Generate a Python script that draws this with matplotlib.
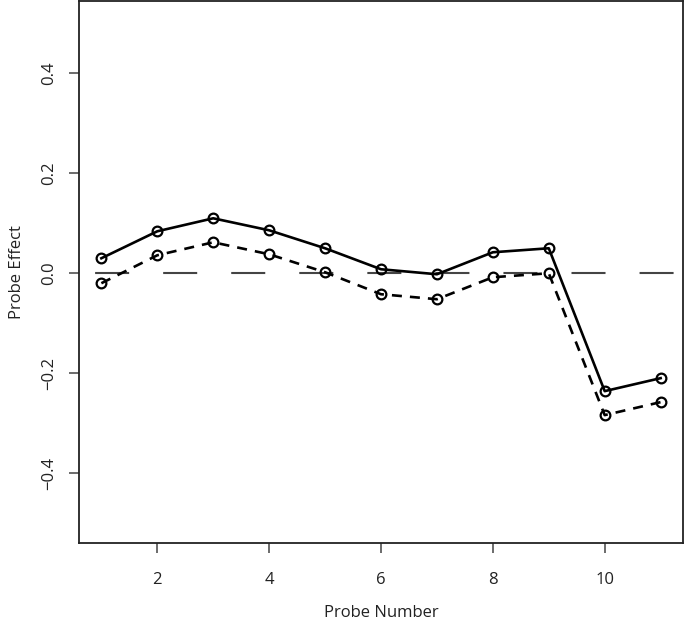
import numpy as np
import matplotlib
matplotlib.use("Agg")
from matplotlib import pyplot as plt

plt.rcParams['font.family'] = ['Open Sans', 'DejaVu Sans']
plt.rcParams['lines.scale_dashes'] = False

probe = [1, 2, 3, 4, 5, 6, 7, 8, 9, 10, 11]
effect_solid = [0.030, 0.084, 0.110, 0.086, 0.050, 0.008, -0.002, 0.042, 0.050, -0.236, -0.210]
effect_dashed = [-0.020, 0.036, 0.062, 0.038, 0.002, -0.042, -0.052, -0.008, 0.000, -0.284, -0.258]
xticks = [2, 4, 6, 8, 10]
yticks = [-0.4, -0.2, 0.0, 0.2, 0.4]

fig = plt.figure(figsize=(6.85, 6.25), dpi=100)
ax = fig.add_axes([79/685, 82/625, 604/685, 542/625])

# reference line at zero (long dashes)
ax.axhline(0, color='#444444', lw=1.5, ls=(37.4, (24.5, 24.5)), dash_capstyle='butt', zorder=1)

ax.plot(probe, effect_solid, color='black', lw=1.9, marker='o', ms=7,
        mfc='none', mec='black', mew=1.6, zorder=3)
ax.plot(probe, effect_dashed, color='black', lw=1.9, ls=(0, (7.2, 5.8)), marker='o', ms=7,
        mfc='none', mec='black', mew=1.6, zorder=3)

ax.set_xlim(0.6, 11.4)
ax.set_ylim(-0.54, 0.545)
ax.set_xticks(xticks)
ax.set_xticklabels([str(t) for t in xticks])
ax.set_yticks(yticks)
ax.set_yticklabels(['\u22120.4', '\u22120.2', '0.0', '0.2', '0.4'], rotation=90, va='center')

for s in ax.spines.values():
    s.set_linewidth(1.3)
    s.set_color('#222222')

ax.tick_params(axis='both', length=7, width=1.1, color='#444444', labelsize=12,
               labelcolor='#222222')
ax.tick_params(axis='x', pad=14)
ax.tick_params(axis='y', pad=9)

ax.set_xlabel('Probe Number', fontsize=12, color='#222222', labelpad=12)
ax.set_ylabel('Probe Effect', fontsize=12, color='#222222', labelpad=11)

fig.savefig('out.png', dpi=100)
